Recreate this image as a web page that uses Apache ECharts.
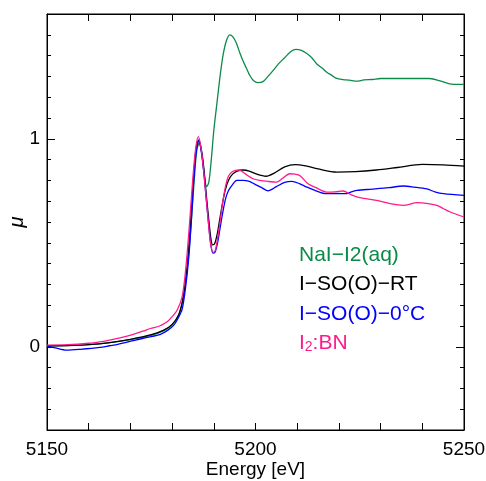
<!DOCTYPE html>
<html>
<head>
<meta charset="utf-8">
<script src="https://cdn.jsdelivr.net/npm/echarts@6/dist/echarts.min.js"></script>
<style>
  html, body { margin: 0; padding: 0; background: #fff; }
  #chart { width: 486px; height: 481px; }
</style>
</head>
<body>
<div id="chart"></div>
<script>
// [energy eV, mu]
const naiI2 = [
  [5150, 0.005], [5160, 0.01], [5170, 0.035], [5175, 0.055], [5178, 0.078], [5180, 0.105],
  [5181.5, 0.15], [5182.5, 0.22], [5183.3, 0.32], [5184, 0.45], [5184.7, 0.63], [5185.3, 0.8],
  [5185.9, 0.94], [5186.5, 0.98], [5187.1, 0.93], [5187.7, 0.83], [5188.3, 0.77], [5188.8, 0.79],
  [5189.4, 0.9], [5190, 1.04], [5190.8, 1.18], [5191.5, 1.3], [5192.2, 1.4], [5193, 1.47],
  [5193.8, 1.5], [5194.6, 1.49], [5195.4, 1.46], [5196.3, 1.41], [5197.1, 1.37], [5197.8, 1.34],
  [5198.5, 1.31], [5199.5, 1.28], [5200.6, 1.27], [5201.8, 1.275], [5203, 1.3], [5204.3, 1.33],
  [5205.5, 1.36], [5207, 1.39], [5208.5, 1.42], [5209.7, 1.43], [5211, 1.425], [5212.3, 1.41],
  [5213.5, 1.39], [5214.7, 1.36], [5216, 1.34], [5217.1, 1.32], [5218.3, 1.305], [5219.5, 1.29],
  [5221, 1.285], [5222.5, 1.282], [5224.3, 1.277], [5226, 1.283], [5228, 1.285], [5230, 1.29],
  [5235, 1.29], [5241.5, 1.29], [5244, 1.28], [5247.5, 1.262], [5250, 1.262]
];
const isoRT = [
  [5150, 0.005], [5155, 0.006], [5160, 0.01], [5165, 0.02], [5170, 0.036], [5175, 0.058],
  [5178, 0.08], [5180, 0.108], [5181.5, 0.15], [5182.5, 0.22], [5183.3, 0.33], [5184, 0.48],
  [5184.6, 0.65], [5185.2, 0.83], [5185.8, 0.96], [5186.4, 0.995], [5187, 0.95], [5187.6, 0.86],
  [5188.2, 0.73], [5188.8, 0.61], [5189.3, 0.52], [5189.7, 0.49], [5190.2, 0.495], [5190.8, 0.54],
  [5191.4, 0.61], [5192, 0.68], [5192.7, 0.75], [5193.5, 0.8], [5194.5, 0.83], [5195.6, 0.845],
  [5197, 0.85], [5198.5, 0.845], [5200, 0.832], [5202.5, 0.82], [5204.5, 0.835], [5207, 0.865],
  [5209.5, 0.876], [5212, 0.87], [5215, 0.855], [5219.5, 0.84], [5224, 0.842], [5229, 0.85],
  [5234, 0.862], [5240, 0.877], [5245, 0.875], [5250, 0.869]
];
const iso0C = [
  [5150, 0.005], [5152, -0.005], [5154.7, -0.016], [5158, -0.012], [5162.7, -0.003], [5165, 0.005],
  [5167, 0.012], [5170.7, 0.03], [5174, 0.045], [5177.2, 0.06], [5179, 0.08], [5180.4, 0.104],
  [5181.5, 0.14], [5182.4, 0.18], [5183.2, 0.28], [5184, 0.43], [5184.6, 0.6], [5185.2, 0.8],
  [5185.8, 0.94], [5186.4, 0.99], [5187, 0.94], [5187.6, 0.84], [5188.2, 0.71], [5188.8, 0.58],
  [5189.3, 0.49], [5189.8, 0.45], [5190.3, 0.455], [5190.9, 0.5], [5191.5, 0.57], [5192.1, 0.64],
  [5192.8, 0.71], [5193.5, 0.75], [5194.5, 0.78], [5195.5, 0.8], [5197, 0.8], [5198.5, 0.795],
  [5200, 0.78], [5201.5, 0.765], [5203, 0.75], [5205, 0.77], [5207, 0.79], [5208.7, 0.795],
  [5210.5, 0.785], [5212.3, 0.768], [5214.5, 0.75], [5217, 0.736], [5219.5, 0.737], [5221.9, 0.736],
  [5223, 0.745], [5224.3, 0.752], [5228, 0.758], [5232, 0.765], [5235.5, 0.773], [5238, 0.768],
  [5241.1, 0.759], [5243, 0.745], [5245.1, 0.736], [5250, 0.728]
];
const i2BN = [
  [5150, 0.008], [5155, 0.01], [5160, 0.017], [5162.7, 0.024], [5165, 0.032], [5168, 0.045],
  [5170.7, 0.06], [5173, 0.075], [5174.8, 0.088], [5177, 0.1], [5178.8, 0.12], [5180, 0.145],
  [5181.2, 0.176], [5182.4, 0.24], [5183.2, 0.36], [5183.9, 0.52], [5184.5, 0.68], [5185.1, 0.84],
  [5185.7, 0.96], [5186.3, 1.01], [5186.9, 0.96], [5187.5, 0.86], [5188.1, 0.73], [5188.7, 0.6],
  [5189.2, 0.5], [5189.8, 0.455], [5190.3, 0.46], [5190.9, 0.52], [5191.5, 0.6], [5192.1, 0.69],
  [5192.8, 0.77], [5193.5, 0.82], [5194.5, 0.843], [5196, 0.85], [5197, 0.84], [5198, 0.825],
  [5199.4, 0.808], [5201, 0.8], [5203, 0.795], [5205, 0.792], [5206.5, 0.81], [5208.2, 0.832],
  [5209.5, 0.83], [5210.6, 0.824], [5212.6, 0.784], [5214.5, 0.765], [5217, 0.744], [5219, 0.745],
  [5221, 0.749], [5223, 0.73], [5225, 0.717], [5229, 0.704], [5232.3, 0.688], [5235.5, 0.68],
  [5238.7, 0.693], [5241, 0.69], [5243.5, 0.68], [5245, 0.665], [5246.7, 0.648], [5250, 0.624]
];

const xLabels = [5150, 5200, 5250];
const yLabels = [0, 1];

const GREEN = "#0b8a4a";
const PINK = "#ff1a8c";
const FONT = "Liberation Sans, Arial, sans-serif";

const chart = echarts.init(document.getElementById("chart"));

// mirror axes keep their labels but paint them transparent, v6 drops label-less top axes
const ghostLabel = { show: true, color: "rgba(0,0,0,0)", fontSize: 10 };

const xBase = {
  type: "value", min: 5150, max: 5250, interval: 10, gridIndex: 0,
  axisLine: { show: true, onZero: false, lineStyle: { color: "#000", width: 1 } },
  axisTick: { show: true, inside: true, length: 7, lineStyle: { color: "#000" } },
  splitLine: { show: false }
};
const yBase = {
  type: "value", min: -0.4, max: 1.6, interval: 0.1, gridIndex: 0,
  axisLine: { show: true, onZero: false, lineStyle: { color: "#000", width: 1 } },
  axisTick: { show: true, inside: true, length: 4, lineStyle: { color: "#000" } },
  splitLine: { show: false }
};
const longTicks = {
  show: true, inside: true, length: 8, customValues: yLabels, lineStyle: { color: "#000" }
};

const line = (data, color, name) => ({
  name, type: "line", data, symbol: "none", smooth: 0.3,
  lineStyle: { color, width: 1.3 }, animation: false
});

chart.setOption({
  animation: false,
  grid: {
    left: 47, top: 14, right: 22, bottom: 51, outerBoundsMode: "none", containLabel: false,
    show: true, borderColor: "#000", borderWidth: 1, backgroundColor: "transparent"
  },
  xAxis: [
    Object.assign({}, xBase, {
      position: "bottom",
      name: "Energy [eV]", nameLocation: "middle", nameGap: 30, nameMoveOverlap: false,
      nameTextStyle: { color: "#000", fontSize: 19, fontFamily: FONT },
      axisLabel: {
        color: "#000", fontSize: 19, fontFamily: FONT, margin: 10,
        formatter: v => (xLabels.includes(Math.round(v)) ? String(Math.round(v)) : "")
      }
    }),
    Object.assign({}, xBase, { position: "top", axisLabel: ghostLabel })
  ],
  yAxis: [
    Object.assign({}, yBase, {
      position: "left",
      name: "μ", nameLocation: "middle", nameGap: 20, nameRotate: 90, nameMoveOverlap: false,
      nameTextStyle: { color: "#000", fontSize: 20, fontStyle: "italic", fontFamily: FONT },
      axisLabel: {
        color: "#000", fontSize: 19, fontFamily: FONT, margin: 7,
        formatter: v => {
          const hit = yLabels.find(t => Math.abs(v - t) < 1e-6);
          return hit === undefined ? "" : String(hit);
        }
      }
    }),
    Object.assign({}, yBase, { position: "right", axisLabel: ghostLabel }),
    Object.assign({}, yBase, {
      position: "left", axisLine: { show: false, onZero: false }, axisLabel: ghostLabel,
      axisTick: longTicks
    }),
    Object.assign({}, yBase, {
      position: "right", axisLine: { show: false, onZero: false }, axisLabel: ghostLabel,
      axisTick: longTicks
    })
  ],
  series: [
    line(naiI2, GREEN, "NaI-I2(aq)"),
    line(isoRT, "#000000", "I-SO(O)-RT"),
    line(iso0C, "#0000ff", "I-SO(O)-0°C"),
    line(i2BN, PINK, "I2:BN")
  ],
  graphic: [
    { type: "text", left: 299, top: 245, style: { text: "NaI−I2(aq)", fill: GREEN, font: "21px " + FONT } },
    { type: "text", left: 299, top: 274, style: { text: "I−SO(O)−RT", fill: "#000", font: "21px " + FONT } },
    { type: "text", left: 299, top: 304, style: { text: "I−SO(O)−0°C", fill: "#0000ff", font: "21px " + FONT } },
    {
      type: "text", left: 299, top: 333,
      style: {
        text: "{a|I}{s|2}{a|:BN}",
        rich: {
          a: { fill: PINK, fontSize: 21, fontFamily: FONT },
          s: { fill: PINK, fontSize: 14, fontFamily: FONT, verticalAlign: "bottom", padding: [8, 0, 0, 0] }
        }
      }
    }
  ]
});
</script>
</body>
</html>
